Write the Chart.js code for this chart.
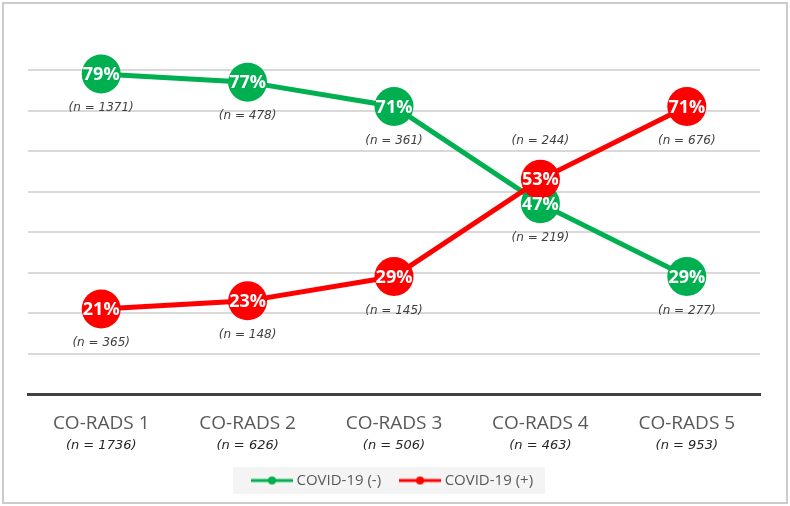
<!DOCTYPE html>
<html>
<head>
<meta charset="utf-8">
<script src="https://cdn.jsdelivr.net/npm/chart.js@4"></script>
<style>
  html, body { margin: 0; padding: 0; background: #fff; }
  #wrap { width: 790px; height: 506px; position: relative; }
</style>
</head>
<body>
<div id="wrap"><canvas id="myChart" width="790" height="506"></canvas></div>
<script>
// categories + sample sizes
const categories = ["CO-RADS 1", "CO-RADS 2", "CO-RADS 3", "CO-RADS 4", "CO-RADS 5"];
const totalN = [1736, 626, 506, 463, 953];
// percentages per group
const negPct = [79, 77, 71, 47, 29];
const posPct = [21, 23, 29, 53, 71];
const negN = [1371, 478, 361, 219, 277];
const posN = [365, 148, 145, 244, 676];
const yTicks = [0, 10, 20, 30, 40, 50, 60, 70, 80];

const GREEN = "#00b050";
const RED = "#ff0000";

// little line+dot image for the legend
const legendIcon = (color) => {
    const c = document.createElement("canvas");
    c.width = 42;
    c.height = 10;
    const g = c.getContext("2d");
    g.strokeStyle = color;
    g.lineWidth = 3;
    g.beginPath();
    g.moveTo(0, 5);
    g.lineTo(42, 5);
    g.stroke();
    g.fillStyle = color;
    g.beginPath();
    g.arc(21, 5, 4, 0, Math.PI * 2);
    g.fill();
    return c;
};

const framePlugin = {
    id: "frame",
    beforeDraw(chart) {
        const ctx = chart.ctx;
        ctx.save();
        ctx.fillStyle = "#fff";
        ctx.fillRect(0, 0, chart.width, chart.height);
        ctx.strokeStyle = "#cccccc";
        ctx.lineWidth = 2;
        ctx.strokeRect(3, 3, 784, 500);
        // legend backdrop
        const boxes = chart.legend && chart.legend.legendHitBoxes;
        if (boxes && boxes.length) {
            let l = Infinity, r = -Infinity, t = Infinity, b = -Infinity;
            boxes.forEach(h => {
                l = Math.min(l, h.left); r = Math.max(r, h.left + h.width);
                t = Math.min(t, h.top); b = Math.max(b, h.top + h.height);
            });
            ctx.fillStyle = "#f4f4f4";
            ctx.fillRect(l - 22, t - 6, r - l + 34, b - t + 12);
        }
        ctx.restore();
    }
};

const labelPlugin = {
    id: "pointLabels",
    afterDatasetsDraw(chart) {
        const ctx = chart.ctx;
        const metas = [chart.getDatasetMeta(0), chart.getDatasetMeta(1)];
        const nLists = [negN, posN];
        ctx.save();
        ctx.textAlign = "center";
        ctx.textBaseline = "middle";
        // n labels
        ctx.font = "italic 12px 'DejaVu Sans'";
        ctx.fillStyle = "#404040";
        metas.forEach((meta, d) => {
            const other = metas[1 - d];
            meta.data.forEach((pt, i) => {
                const op = other.data[i];
                let y = pt.y + 34;
                if (Math.abs(op.y - pt.y) < 60 && pt.y < op.y) y = pt.y - 38;
                ctx.fillText("(n = " + nLists[d][i] + ")", pt.x, y);
            });
        });
        // percentages
        ctx.font = "bold 18px 'Open Sans'";
        ctx.fillStyle = "#fff";
        metas.forEach((meta, d) => {
            const vals = chart.data.datasets[d].data;
            meta.data.forEach((pt, i) => {
                ctx.fillText(vals[i] + "%", pt.x, pt.y + 1);
            });
        });
        ctx.restore();
    },
    afterDraw(chart) {
        const ctx = chart.ctx;
        const xs = chart.scales.x;
        ctx.save();
        ctx.textAlign = "center";
        ctx.textBaseline = "middle";
        ctx.font = "italic 13px 'DejaVu Sans'";
        ctx.fillStyle = "#262626";
        totalN.forEach((n, i) => {
            ctx.fillText("(n = " + n + ")", xs.getPixelForValue(i), 446);
        });
        ctx.restore();
    }
};

new Chart("myChart", {
    type: "line",
    data: {
        labels: categories,
        datasets: [
            {
                label: "COVID-19 (-)",
                data: negPct,
                borderColor: GREEN,
                backgroundColor: GREEN,
                borderWidth: 5,
                pointRadius: 19.5,
                pointHoverRadius: 19.5,
                pointBorderWidth: 0,
                pointStyle: "circle",
                order: 1,
                clip: false,
                legendIcon: legendIcon(GREEN)
            },
            {
                label: "COVID-19 (+)",
                data: posPct,
                borderColor: RED,
                backgroundColor: RED,
                borderWidth: 5,
                pointRadius: 19.5,
                pointHoverRadius: 19.5,
                pointBorderWidth: 0,
                pointStyle: "circle",
                order: 0,
                clip: false,
                legendIcon: legendIcon(RED)
            }
        ]
    },
    options: {
        responsive: false,
        animation: false,
        devicePixelRatio: 1,
        layout: { padding: { left: 28, right: 30, top: 70, bottom: 8 } },
        scales: {
            x: {
                offset: true,
                grid: { display: false, drawTicks: false },
                border: { display: true, color: "#404040", width: 3 },
                ticks: {
                    color: "#595959",
                    font: { family: "'Open Sans'", size: 19 },
                    padding: 18
                },
                afterFit(scale) { scale.height = 57; }
            },
            y: {
                min: 0,
                max: 80,
                afterBuildTicks(scale) { scale.ticks = yTicks.map(v => ({ value: v })); },
                grid: { color: "#d9d9d9", lineWidth: 2, drawTicks: false },
                border: { display: false },
                ticks: { display: false }
            }
        },
        plugins: {
            tooltip: { enabled: false },
            legend: {
                position: "bottom",
                labels: {
                    usePointStyle: true,
                    pointStyleWidth: 34,
                    boxHeight: 10,
                    padding: 22,
                    color: "#595959",
                    font: { family: "'Open Sans'", size: 15 },
                    sort: (a, b) => a.datasetIndex - b.datasetIndex,
                    generateLabels(chart) {
                        return chart.data.datasets.map((ds, i) => ({
                            text: ds.label,
                            fillStyle: ds.borderColor,
                            strokeStyle: ds.borderColor,
                            lineWidth: 0,
                            pointStyle: ds.legendIcon,
                            fontColor: "#595959",
                            hidden: false,
                            datasetIndex: i
                        }));
                    }
                }
            }
        }
    },
    plugins: [framePlugin, labelPlugin]
});
</script>
</body>
</html>
